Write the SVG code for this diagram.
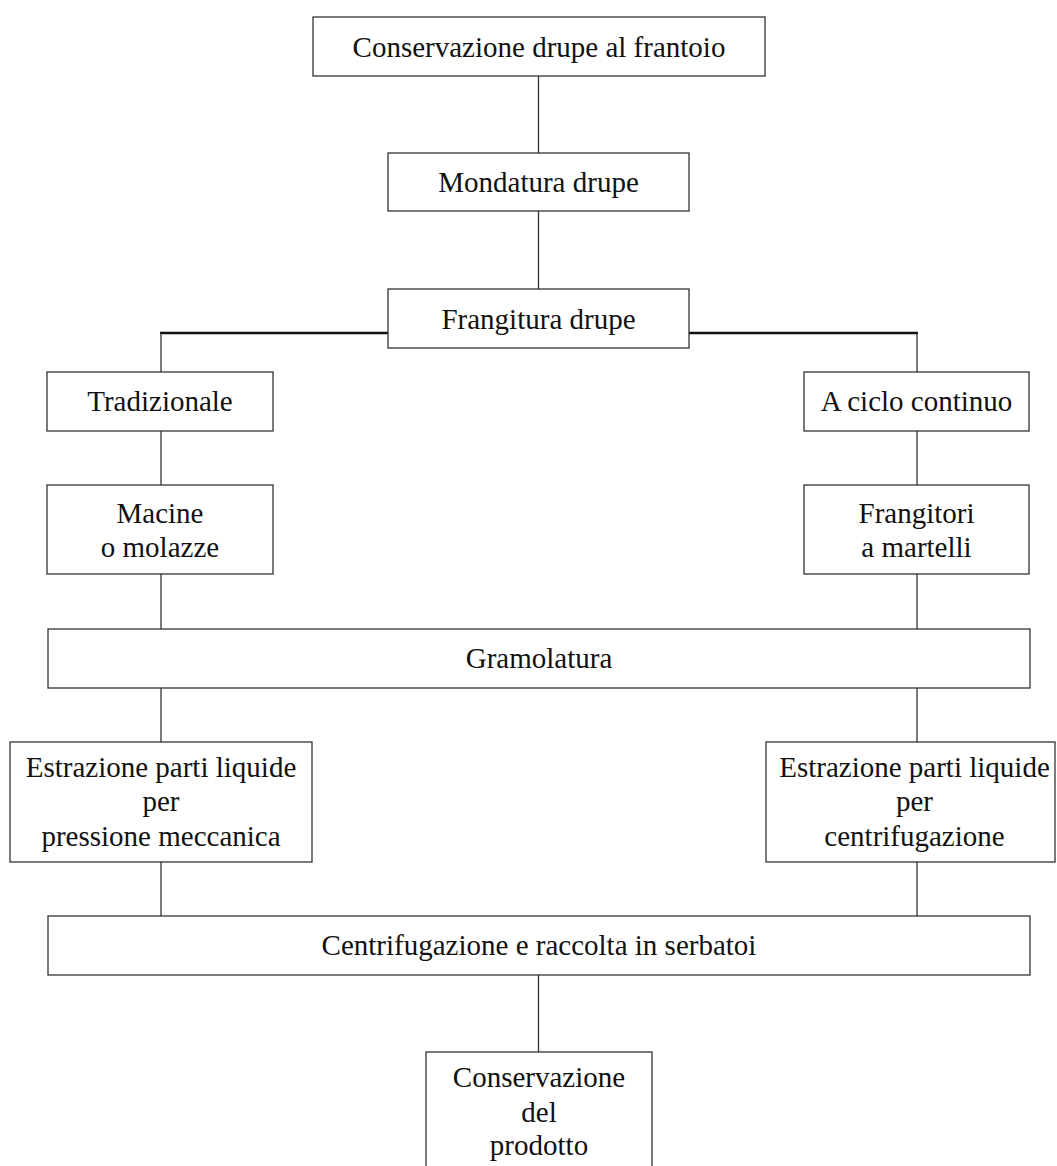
<svg xmlns="http://www.w3.org/2000/svg" width="1057" height="1166" viewBox="0 0 1057 1166">
<style>
.box{fill:#fff;stroke:#333;stroke-width:1.3}
.t{font-family:"Liberation Serif","Times New Roman",serif;font-size:29px;fill:#111;text-anchor:middle}
.c{stroke:#333;stroke-width:1.3;fill:none}
.ct{stroke:#111;stroke-width:2.6;fill:none}
</style>
<rect width="1057" height="1166" fill="#fff"/>
<g id="connectors">
<line class="c" x1="538.5" y1="76" x2="538.5" y2="153"/>
<line class="c" x1="538.5" y1="211" x2="538.5" y2="289"/>
<line class="ct" x1="160" y1="333" x2="388" y2="333"/>
<line class="ct" x1="689" y1="333" x2="918" y2="333"/>
<line class="c" x1="161" y1="333" x2="161" y2="372"/>
<line class="c" x1="917" y1="333" x2="917" y2="372"/>
<line class="c" x1="161" y1="431" x2="161" y2="485"/>
<line class="c" x1="917" y1="431" x2="917" y2="485"/>
<line class="c" x1="161" y1="574" x2="161" y2="629"/>
<line class="c" x1="917" y1="574" x2="917" y2="629"/>
<line class="c" x1="161" y1="688" x2="161" y2="742"/>
<line class="c" x1="917" y1="688" x2="917" y2="742"/>
<line class="c" x1="161" y1="862" x2="161" y2="916"/>
<line class="c" x1="917" y1="862" x2="917" y2="916"/>
<line class="c" x1="538.5" y1="975" x2="538.5" y2="1052"/>
</g>
<g id="n1"><rect class="box" x="313" y="17" width="452" height="59"/><text class="t" x="539" y="56.5">Conservazione drupe al frantoio</text></g>
<g id="n2"><rect class="box" x="388" y="153" width="301" height="58"/><text class="t" x="538.5" y="192">Mondatura drupe</text></g>
<g id="n3"><rect class="box" x="388" y="289" width="301" height="59"/><text class="t" x="538.5" y="328.5">Frangitura drupe</text></g>
<g id="n4"><rect class="box" x="47" y="372" width="226" height="59"/><text class="t" x="160" y="411">Tradizionale</text></g>
<g id="n5"><rect class="box" x="804" y="372" width="225" height="59"/><text class="t" x="916.5" y="411">A ciclo continuo</text></g>
<g id="n6"><rect class="box" x="47" y="485" width="226" height="89"/><text class="t" x="160" y="523">Macine</text><text class="t" x="160" y="557">o molazze</text></g>
<g id="n7"><rect class="box" x="804" y="485" width="225" height="89"/><text class="t" x="916.5" y="523">Frangitori</text><text class="t" x="916.5" y="557">a martelli</text></g>
<g id="n8"><rect class="box" x="48" y="629" width="982" height="59"/><text class="t" x="539" y="668">Gramolatura</text></g>
<g id="n9"><rect class="box" x="10" y="742" width="302" height="120"/><text class="t" x="161" y="777">Estrazione parti liquide</text><text class="t" x="161" y="811">per</text><text class="t" x="161" y="846">pressione meccanica</text></g>
<g id="n10"><rect class="box" x="766" y="742" width="289" height="120"/><text class="t" x="914.5" y="777">Estrazione parti liquide</text><text class="t" x="914.5" y="811">per</text><text class="t" x="914.5" y="846">centrifugazione</text></g>
<g id="n11"><rect class="box" x="48" y="916" width="982" height="59"/><text class="t" x="539" y="955">Centrifugazione e raccolta in serbatoi</text></g>
<g id="n12"><rect class="box" x="426" y="1052" width="226" height="130"/><text class="t" x="539" y="1087">Conservazione</text><text class="t" x="539" y="1122">del</text><text class="t" x="539" y="1155">prodotto</text></g>
</svg>
